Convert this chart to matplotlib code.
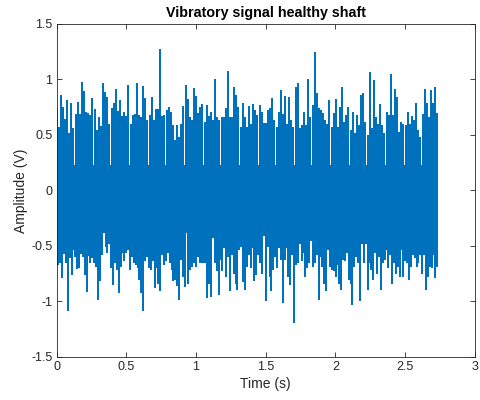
import numpy as np
import matplotlib
matplotlib.use("Agg")
import matplotlib.pyplot as plt
from matplotlib.ticker import FuncFormatter

plt.rcParams['font.family'] = ['Liberation Sans', 'DejaVu Sans']
plt.rcParams['axes.unicode_minus'] = False

duration = 2.73  # seconds of signal shown

# Upper envelope peaks read left to right from the picture (V)
upper_peaks = [
    0.725, 0.575, 0.86, 0.75, 0.64, 0.815, 0.52, 0.79, 0.56, 0.69, 0.80, 0.69, 0.975, 0.90,
    0.71, 0.70, 0.68, 0.83, 0.73, 0.545, 0.66, 0.58, 0.965, 0.89, 0.84, 0.60, 0.74, 0.79,
    0.915, 0.72, 0.815, 0.67, 0.71, 0.67, 0.95, 0.60, 0.68, 0.69, 0.965, 0.68, 0.66, 0.94,
    0.83, 0.635, 0.68, 0.845, 0.635, 0.73, 0.73, 1.275, 0.67, 0.68, 0.725, 0.75, 0.71, 0.59,
    0.455, 0.59, 0.485, 0.60, 0.76, 0.95, 0.82, 0.665, 0.635, 0.92, 0.85, 0.70, 0.755, 0.78,
    0.62, 0.77, 0.67, 0.71, 0.635, 1.0, 0.665, 0.635, 0.665, 0.66, 0.74, 1.08, 0.66, 0.665,
    0.935, 0.86, 0.755,
    0.575, 0.785, 0.665, 0.57, 0.76, 0.60, 0.78, 0.725, 0.68, 0.77, 0.71, 0.61, 0.61, 0.725,
    0.74, 0.83, 0.635, 0.575, 0.71, 0.905, 0.69, 0.85, 0.60, 0.845, 0.63, 0.575, 0.935, 0.965,
    0.56, 0.59, 0.71, 0.59, 1.0, 0.66, 0.77, 1.245, 0.88, 0.74, 0.725, 0.695, 0.635, 0.60,
    0.815, 0.575, 0.70,
    0.82, 0.57, 0.755, 0.935, 0.62, 0.68, 0.755, 0.545, 0.71, 0.515, 0.68, 0.59, 0.86, 0.875,
    0.62, 0.50, 1.07, 0.56, 0.995, 0.665, 0.60, 0.78, 0.59, 0.515, 0.71, 0.68, 1.05, 0.68,
    0.91, 0.845, 0.53, 0.62, 0.60, 0.59, 0.71, 0.60, 0.67, 0.635, 0.79, 0.545, 0.485, 0.69,
    0.91, 0.785, 0.665, 0.905, 0.785, 0.93, 0.695,
]

# Lower envelope troughs read left to right from the picture (V)
lower_peaks = [
    -0.656, -0.67, -0.656, -0.79, -0.57, -0.656, -1.09, -0.61, -0.76, -0.54, -0.60, -0.71,
    -0.70, -0.57, -0.60, -0.76, -0.92, -0.59, -0.656, -0.61, -0.656, -0.69, -0.985, -0.82,
    -0.58, -0.385, -0.51, -0.565, -0.48, -0.70, -0.85, -0.656, -0.72, -0.93, -0.69, -0.565,
    -0.64, -0.565, -0.54, -0.72, -0.60, -0.656, -0.67, -0.70, -0.81, -0.93, -1.09, -0.64,
    -0.60, -0.70,
    -0.72, -0.64, -0.88, -0.70, -0.84, -0.91, -0.58, -0.67, -0.64, -0.565, -0.656, -0.72,
    -0.82, -0.81, -0.86, -0.99, -0.63, -0.78, -0.87, -0.385, -0.84, -0.72, -0.69, -0.656,
    -0.69, -0.60, -0.656, -0.656, -0.656, -0.656, -0.97, -0.84, -0.96, -0.43, -0.656, -0.73,
    -0.94, -0.63, -0.73, -0.52, -0.78, -0.60, -0.91, -0.58, -0.75, -0.84, -0.90, -0.54,
    -0.51, -0.83,
    -0.90, -0.69, -0.58, -0.70, -0.52, -0.82, -0.76, -0.58, -0.656, -0.75, -0.41, -1.00,
    -0.51, -0.78, -0.91, -0.72, -0.60, -0.70, -0.52, -0.63, -1.02, -0.63, -0.52, -0.78,
    -0.85, -0.58, -1.20, -0.67, -0.656, -0.48, -0.64, -0.565, -0.78, -0.70, -0.656, -0.46,
    -0.69, -0.656, -0.58, -0.985, -0.60, -0.69, -0.84, -0.91, -0.54, -0.69, -0.72, -0.73,
    -0.78, -0.67,
    -0.84, -0.90, -0.63, -0.64, -0.565, -0.81, -0.84, -1.03, -0.69, -0.60, -0.656, -1.00,
    -0.48, -0.656, -0.48, -0.90, -0.656, -0.72, -0.81, -0.565, -0.75, -0.60, -0.90, -0.656,
    -0.63, -0.54, -0.70, -0.58, -0.84, -0.656, -0.75, -0.69, -0.78, -0.54, -0.78, -0.64,
    -0.656, -0.81, -0.69, -0.58, -0.61, -0.69, -0.656, -0.58, -0.75, -0.58, -0.90, -0.78,
    -0.69, -0.70, -0.58, -0.79, -0.69,
]

title_text = "Vibratory signal healthy shaft"
x_label = "Time (s)"
y_label = "Amplitude (V)"
x_ticks = [0, 0.5, 1, 1.5, 2, 2.5, 3]
y_ticks = [-1.5, -1, -0.5, 0, 0.5, 1, 1.5]

# sample times of the read peaks
t_up = np.linspace(0, duration, len(upper_peaks))
t_lo = np.linspace(0, duration, len(lower_peaks))

fig = plt.figure(figsize=(4.81, 4.0), dpi=100)
left_px, right_px, top_px, bottom_px = 56.5, 475.0, 24.0, 356.7
ax = fig.add_axes([left_px / 481, 1 - bottom_px / 400,
                   (right_px - left_px) / 481, (bottom_px - top_px) / 400])
blue = "#0072BD"
# dense signal drawn as its swing: each read peak joined to the matching trough side
ax.vlines(t_up, min(upper_peaks) * -0.6, upper_peaks, color=blue, linewidth=1.3,
          antialiased=False)
ax.vlines(t_lo, lower_peaks, max(lower_peaks) * -0.6, color=blue, linewidth=1.3,
          antialiased=False)

ax.set_xlim(0, 3)
ax.set_ylim(-1.5, 1.5)
ax.set_xticks(x_ticks)
ax.set_yticks(y_ticks)
fmt = FuncFormatter(lambda v, p: ("%g" % v))
ax.xaxis.set_major_formatter(fmt)
ax.yaxis.set_major_formatter(fmt)

edge = "#262626"
for s in ax.spines.values():
    s.set_color(edge)
    s.set_linewidth(0.6)
ax.tick_params(direction="in", length=3.5, width=0.6, color=edge, labelsize=9,
               labelcolor=edge, top=True, right=True, pad=3)
ax.set_xlabel(x_label, fontsize=10, color=edge, labelpad=3)
ax.set_ylabel(y_label, fontsize=10, color=edge, labelpad=2)
ax.set_title(title_text, fontsize=10.3, fontweight="bold", color="black", pad=5)

fig.savefig("out.png", dpi=100)
